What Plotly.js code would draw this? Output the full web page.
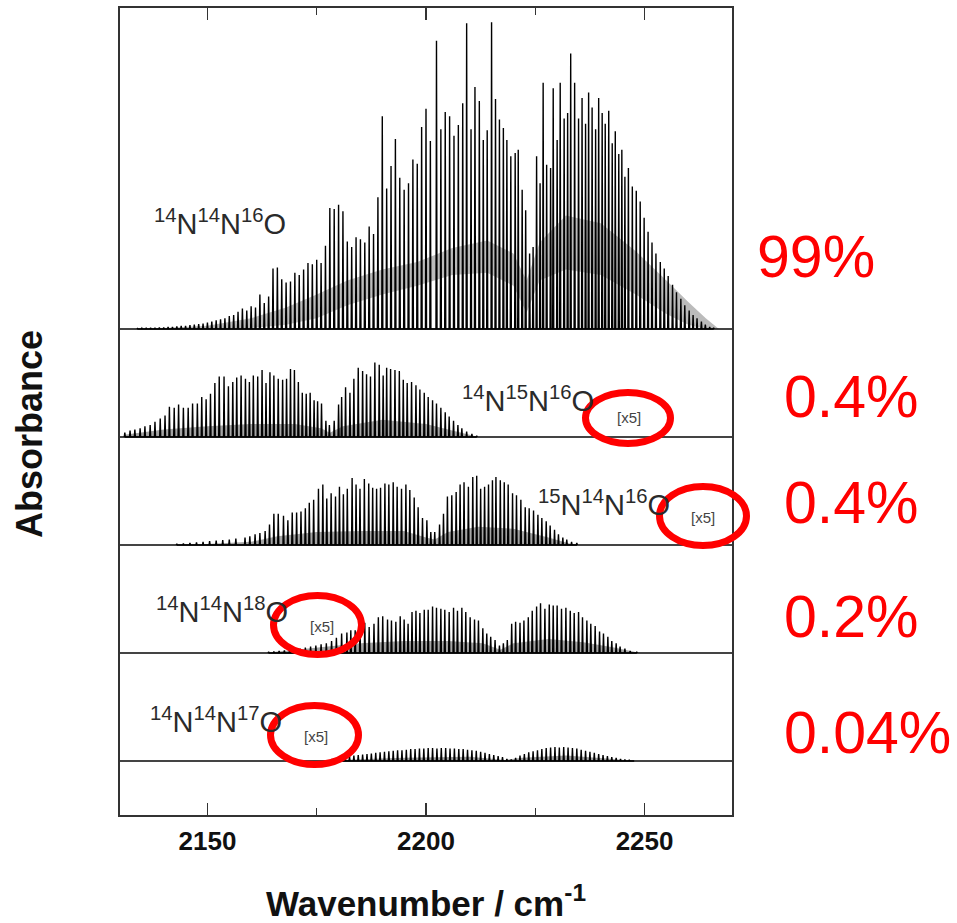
<!DOCTYPE html>
<html>
<head>
<meta charset="utf-8">
<script src="https://cdn.plot.ly/plotly-3.0.1.min.js"></script>
<style>html,body{margin:0;padding:0;background:#fff;}#chart{width:957px;height:923px;}</style>
</head>
<body>
<div id="chart"></div>
<script>
// ---------- DATA ----------
// Panel labels / abundances
const isotopologues = ["<sup>14</sup>N<sup>14</sup>N<sup>16</sup>O", "<sup>14</sup>N<sup>15</sup>N<sup>16</sup>O", "<sup>15</sup>N<sup>14</sup>N<sup>16</sup>O", "<sup>14</sup>N<sup>14</sup>N<sup>18</sup>O", "<sup>14</sup>N<sup>14</sup>N<sup>17</sup>O"];
const abundances = ["99%", "0.4%", "0.4%", "0.2%", "0.04%"];
const scaleNotes = ["", "[x5]", "[x5]", "[x5]", "[x5]"];
const xTicks = [2150, 2200, 2250];

// Panel 1: 14N14N16O line positions (cm-1) and peak absorbance
const pos1 = [2134,2135,2136,2137,2138,2139,2140,2141,2142,2143,2144,2145,2146,2147,2148,2149,2150,2151,2152,2153,2154,2155,2156,2157,2158,2159,2160,2161,2162,2163,2164,2165,2166,2167,2168,2169,2170,2171,2172,2173,2174,2175,2176,2177,2178,2179,2180,2181,2182,2183,2184,2185,2186,2187,2188,2189,2190,2191,2192,2193,2194,2195,2196,2197,2198,2199,2200,2201,2202.4,2203.4,2204.4,2205.4,2206.4,2207.4,2208.4,2209.3,2210.3,2211.2,2212.2,2213.1,2214,2215,2215.9,2216.8,2217.7,2218.5,2219.4,2220.4,2221.1,2222,2222.8,2223.7,2224.5,2225.3,2226.1,2226.8,2227.6,2228.5,2229.1,2230,2230.7,2231.6,2232.4,2233.1,2234,2234.9,2235.7,2236.5,2237.2,2238,2238.8,2239.5,2240.3,2241,2241.8,2242.6,2243.3,2244.1,2244.8,2245.5,2246.3,2247.2,2248.1,2249,2249.9,2250.8,2251.7,2252.6,2253.6,2254.5,2255.4,2256.4,2257.3,2258.3,2259.2,2260.2,2261.1,2262,2263,2263.9,2264.9,2265.8];
const amp1 = [0.005,0.008,0.01,0.01,0.012,0.015,0.015,0.02,0.02,0.025,0.03,0.03,0.035,0.04,0.045,0.05,0.06,0.07,0.08,0.09,0.1,0.12,0.13,0.16,0.19,0.17,0.21,0.2,0.32,0.24,0.3,0.56,0.57,0.46,0.43,0.44,0.52,0.5,0.55,0.61,0.6,0.64,0.61,0.77,1.12,1.11,1.15,1.09,0.81,0.76,0.85,0.83,0.8,0.95,0.88,1.22,1.97,1.3,1.51,1.76,1.4,1.29,1.35,1.57,1.53,1.87,2.04,1.74,2.67,1.85,2.01,1.97,1.79,1.89,2.09,2.83,1.85,2.24,2.11,1.75,1.84,2.84,2.13,1.94,1.86,1.75,1.6,1.63,1.66,1.29,1.1,0.7,0.76,1.6,1.35,2.28,1.52,1.49,2.23,1.75,2.28,1.95,2.0,2.55,2.28,1.95,2.14,1.9,2.19,2.05,1.85,2.14,2.0,1.9,2.02,1.72,1.83,1.62,1.66,1.41,1.49,1.32,1.28,1.18,1.03,0.9,0.8,0.7,0.62,0.56,0.49,0.41,0.34,0.28,0.22,0.17,0.13,0.1,0.07,0.04,0.02,0.01];
// dense unresolved (hot-band) absorption, lower/upper edge
const band1X  = [2140,2150,2160,2168,2175,2182,2190,2198,2206,2214,2220,2223,2226,2232,2240,2248,2255,2260,2264,2267];
const band1Lo = [0,0,0.01,0.04,0.1,0.22,0.32,0.4,0.5,0.52,0.4,0.15,0.45,0.55,0.5,0.32,0.14,0.04,0,0];
const band1Hi = [0.01,0.03,0.1,0.2,0.32,0.45,0.55,0.62,0.75,0.82,0.7,0.45,0.8,1.05,0.98,0.72,0.45,0.25,0.1,0];

// Panel 2: 14N15N16O [x5]
const pos2 = [2131.1,2132.3,2133.4,2134.6,2135.7,2136.9,2138.0,2139.2,2140.3,2141.3,2142.4,2143.4,2144.5,2145.6,2146.6,2147.7,2148.7,2149.7,2150.7,2151.7,2152.7,2153.8,2154.8,2155.8,2156.7,2157.7,2158.7,2159.6,2160.5,2161.5,2162.5,2163.4,2164.3,2165.2,2166.2,2167.2,2168.1,2169.0,2169.9,2170.8,2171.7,2172.6,2173.5,2174.4,2175.2,2176.1,2177.1,2177.9,2179.0,2180.0,2180.7,2181.6,2182.6,2183.5,2184.5,2185.5,2186.4,2187.3,2188.3,2189.3,2190.2,2191.0,2191.9,2192.9,2193.9,2194.8,2195.7,2196.7,2197.7,2198.6,2199.6,2200.5,2201.5,2202.4,2203.4,2204.4,2205.3,2206.3,2207.3,2208.2,2209.3,2210.5,2211.6];
const amp2 = [0.04,0.06,0.07,0.08,0.10,0.11,0.14,0.17,0.20,0.28,0.27,0.30,0.27,0.27,0.31,0.31,0.37,0.35,0.40,0.50,0.56,0.56,0.47,0.51,0.55,0.57,0.54,0.51,0.57,0.56,0.62,0.50,0.60,0.57,0.54,0.53,0.54,0.63,0.62,0.51,0.41,0.40,0.41,0.34,0.33,0.31,0.15,0.11,0.15,0.30,0.37,0.46,0.41,0.54,0.64,0.61,0.58,0.56,0.69,0.67,0.57,0.64,0.63,0.62,0.61,0.53,0.50,0.51,0.48,0.44,0.41,0.37,0.34,0.31,0.27,0.23,0.19,0.15,0.11,0.08,0.05,0.03,0.01];
const band2X  = [2131,2140,2150,2160,2170,2176,2178,2181,2190,2200,2206,2212];
const band2Lo = [0,0,0,0,0,0,0,0,0,0,0,0];
const band2Hi = [0.02,0.07,0.1,0.12,0.12,0.08,0.04,0.1,0.16,0.12,0.06,0];

// Panel 3: 15N14N16O [x5]
const pos3 = [2143,2144.5,2146,2147.5,2149,2150.5,2152,2153.5,2155,2156.5,2158.6,2159.7,2160.9,2162.0,2163.2,2164.2,2165.2,2166.2,2167.4,2168.4,2169.4,2170.4,2171.4,2172.4,2173.3,2174.3,2175.4,2176.4,2177.3,2178.3,2179.3,2180.2,2181.1,2182.0,2183.1,2184.0,2184.9,2185.9,2186.9,2187.8,2188.7,2189.6,2190.6,2191.5,2192.5,2193.4,2194.4,2195.4,2196.3,2197.3,2198.2,2199.2,2200.2,2201.1,2202.0,2203.1,2204.0,2204.9,2205.9,2206.9,2207.8,2208.7,2209.7,2210.7,2211.6,2212.5,2213.4,2214.3,2215.2,2216.0,2217.0,2217.9,2218.8,2219.8,2220.7,2221.7,2222.7,2223.6,2224.6,2225.6,2226.5,2227.5,2228.4,2229.4,2230.3,2231.3,2232.2,2233.3,2234.5];
const amp3 = [0.01,0.015,0.02,0.025,0.03,0.035,0.04,0.045,0.05,0.06,0.07,0.08,0.10,0.11,0.13,0.19,0.29,0.29,0.27,0.23,0.30,0.30,0.31,0.34,0.39,0.42,0.52,0.56,0.43,0.48,0.45,0.54,0.47,0.52,0.62,0.56,0.52,0.61,0.57,0.53,0.52,0.53,0.57,0.56,0.58,0.54,0.52,0.56,0.51,0.44,0.35,0.25,0.23,0.12,0.12,0.19,0.29,0.45,0.46,0.49,0.56,0.58,0.54,0.63,0.64,0.52,0.54,0.56,0.60,0.63,0.60,0.58,0.56,0.48,0.46,0.42,0.35,0.34,0.32,0.28,0.25,0.22,0.18,0.14,0.10,0.07,0.05,0.03,0.02];
const band3X  = [2150,2160,2166,2175,2185,2195,2200,2202,2205,2212,2220,2228,2234];
const band3Lo = [0,0,0,0,0,0,0,0,0,0,0,0,0];
const band3Hi = [0.01,0.03,0.08,0.12,0.13,0.13,0.07,0.05,0.12,0.17,0.15,0.07,0];

// Panel 4: 14N14N18O [x5]
const pos4 = [2164,2165.2,2166.4,2167.6,2168.8,2170,2171.2,2172.4,2173.6,2174.8,2176,2177.2,2178.4,2179.5,2180.7,2181.9,2182.8,2183.8,2184.9,2186.0,2187.0,2188.1,2189.1,2190.1,2191.2,2192.1,2193.1,2194.1,2195.0,2195.9,2196.8,2197.7,2198.6,2199.6,2200.5,2201.5,2202.4,2203.4,2204.3,2205.3,2206.3,2207.2,2208.2,2209.1,2210.1,2211.1,2212.0,2213.0,2213.9,2214.8,2215.8,2216.8,2217.7,2218.6,2219.6,2220.5,2221.5,2222.4,2223.4,2224.3,2225.3,2226.2,2227.2,2228.2,2229.1,2230.0,2231.0,2232.0,2233.0,2233.9,2234.9,2235.8,2236.8,2237.7,2238.7,2239.7,2240.6,2241.6,2242.5,2243.5,2244.4,2245.5,2246.7,2248.2];
const amp4 = [0.01,0.015,0.02,0.025,0.03,0.035,0.04,0.05,0.06,0.07,0.08,0.09,0.11,0.14,0.18,0.19,0.21,0.21,0.23,0.28,0.24,0.27,0.33,0.34,0.31,0.30,0.29,0.34,0.31,0.27,0.38,0.39,0.37,0.40,0.40,0.43,0.42,0.41,0.40,0.38,0.42,0.39,0.42,0.38,0.33,0.31,0.30,0.23,0.18,0.15,0.12,0.07,0.09,0.12,0.27,0.29,0.28,0.30,0.33,0.39,0.43,0.46,0.41,0.45,0.44,0.44,0.41,0.42,0.39,0.37,0.38,0.33,0.30,0.27,0.25,0.20,0.18,0.15,0.11,0.09,0.06,0.04,0.02,0.01];
const band4X  = [2165,2175,2185,2195,2205,2213,2217,2220,2228,2236,2243,2249];
const band4Lo = [0,0,0,0,0,0,0,0,0,0,0,0];
const band4Hi = [0.01,0.05,0.09,0.11,0.11,0.09,0.03,0.09,0.13,0.1,0.05,0];

// Panel 5: 14N14N17O [x5]
const pos5 = [2178.5,2179.5,2180.5,2181.5,2182.5,2183.5,2184.5,2185.5,2186.5,2187.5,2188.5,2189.5,2190.5,2191.5,2192.5,2193.5,2194.5,2195.5,2196.5,2197.5,2198.5,2199.5,2200.5,2201.5,2202.5,2203.5,2204.5,2205.5,2206.5,2207.5,2208.5,2209.5,2210.5,2211.5,2212.5,2213.5,2214.5,2215.5,2216.5,2217.5,2218.5,2219.5,2220.5,2221.5,2222.5,2223.5,2224.5,2225.5,2226.5,2227.5,2228.5,2229.5,2230.5,2231.5,2232.5,2233.5,2234.5,2235.5,2236.5,2237.5,2238.5,2239.5,2240.5,2241.5,2242.5,2243.5,2244.5,2245.5,2246.5,2247.5];
const amp5 = [0.02,0.03,0.03,0.04,0.045,0.05,0.055,0.06,0.065,0.07,0.075,0.08,0.085,0.09,0.095,0.1,0.1,0.105,0.11,0.11,0.115,0.115,0.12,0.12,0.115,0.12,0.12,0.115,0.115,0.11,0.11,0.105,0.1,0.095,0.085,0.075,0.065,0.055,0.045,0.035,0.02,0.015,0.03,0.05,0.065,0.08,0.09,0.1,0.11,0.12,0.125,0.13,0.125,0.13,0.125,0.12,0.115,0.105,0.095,0.085,0.075,0.065,0.055,0.045,0.035,0.028,0.02,0.015,0.01,0.005];
const band5X  = [2180,2195,2210,2218,2222,2232,2242,2248];
const band5Lo = [0,0,0,0,0,0,0,0];
const band5Hi = [0.01,0.03,0.04,0.01,0.03,0.05,0.02,0];

// ---------- LAYOUT HELPERS ----------
const W = 957, H = 923, L = 120, R = 732, T = 8, B = 815;
const px = x => (x - L) / (R - L);
const py = y => (B - y) / (B - T);
const FONT = "Liberation Sans, Arial, Helvetica, sans-serif";

const panels = [
  {pos: pos1, amp: amp1, bx: band1X, lo: band1Lo, hi: band1Hi, shade: 'rgba(30,30,30,0.3)'},
  {pos: pos2, amp: amp2, bx: band2X, lo: band2Lo, hi: band2Hi, shade: 'rgba(30,30,30,0.4)'},
  {pos: pos3, amp: amp3, bx: band3X, lo: band3Lo, hi: band3Hi, shade: 'rgba(30,30,30,0.4)'},
  {pos: pos4, amp: amp4, bx: band4X, lo: band4Lo, hi: band4Hi, shade: 'rgba(30,30,30,0.4)'},
  {pos: pos5, amp: amp5, bx: band5X, lo: band5Lo, hi: band5Hi, shade: 'rgba(30,30,30,0.4)'}
];

const traces = [{x: [], y: [], xaxis: 'x', yaxis: 'y', showlegend: false, hoverinfo: 'skip'}];
panels.forEach((p, i) => {
  const ya = 'y' + (i + 2);
  traces.push({
    x: p.bx.concat(p.bx.slice().reverse()),
    y: p.hi.concat(p.lo.slice().reverse()),
    type: 'scatter', mode: 'lines', fill: 'toself',
    fillcolor: p.shade, line: {width: 0},
    xaxis: 'x', yaxis: ya, showlegend: false, hoverinfo: 'skip'
  });
  const sx = [], sy = [];
  p.pos.forEach((w, k) => { sx.push(w - 0.12, w, w + 0.12); sy.push(0, p.amp[k], 0); });
  traces.push({
    x: sx, y: sy, type: 'scatter', mode: 'lines',
    line: {color: '#000', width: 1.4},
    xaxis: 'x', yaxis: ya, showlegend: false, hoverinfo: 'skip'
  });
});

// ---------- AXES ----------
const baselines = [329, 437, 545, 653, 761];
const pad = 0.05, unitPx = 108;
const layout = {
  width: W, height: H,
  margin: {l: L, r: W - R, t: T, b: H - B, pad: 0},
  paper_bgcolor: '#fff', plot_bgcolor: 'rgba(0,0,0,0)',
  showlegend: false,
  font: {family: FONT, color: '#222'},
  xaxis: {
    range: [2130, 2270], anchor: 'y',
    tickmode: 'array', tickvals: xTicks, ticktext: xTicks.map(String),
    ticks: 'inside', ticklen: 12, tickwidth: 1.5, tickcolor: '#333',
    minor: {ticks: 'inside', ticklen: 7, tickwidth: 1.5, tickcolor: '#333', dtick: 25, tick0: 2150},
    showline: true, linecolor: '#333', linewidth: 2, mirror: 'ticks',
    showgrid: false, zeroline: false,
    tickfont: {family: FONT, size: 26, weight: 'bold', color: '#111'},
    ticklabelstandoff: 2,
    title: {text: 'Wavenumber / cm<sup>-1</sup>', font: {family: FONT, size: 35, weight: 'bold', color: '#111'}, standoff: 39}
  },
  yaxis: {
    domain: [0, 1], range: [0, 1], anchor: 'x',
    showline: true, linecolor: '#333', linewidth: 2, mirror: true,
    ticks: '', showticklabels: false, showgrid: false, zeroline: false, fixedrange: true
  },
  shapes: [],
  annotations: []
};
baselines.forEach((b, i) => {
  const top = i === 0 ? T : baselines[i - 1] + pad * unitPx;
  const bottom = b + pad * unitPx;
  layout['yaxis' + (i + 2)] = {
    domain: [py(bottom), py(top)],
    range: [-pad, (b - top) / unitPx],
    anchor: 'x', showticklabels: false, ticks: '', showgrid: false,
    showline: false, zeroline: true, zerolinecolor: '#444', zerolinewidth: 1.5
  };
});

// ---------- TEXT ----------
layout.annotations.push({
  xref: 'paper', yref: 'paper', x: px(30), y: py(434), text: 'Absorbance', textangle: -90,
  showarrow: false, xanchor: 'center', yanchor: 'middle',
  font: {family: FONT, size: 36, weight: 'bold', color: '#111'}
});
const labelPos = [[152, 222], [460, 399], [536, 503], [154, 610], [148, 720]];
isotopologues.forEach((t, i) => {
  layout.annotations.push({
    xref: 'paper', yref: 'paper', x: px(labelPos[i][0]), y: py(labelPos[i][1]),
    text: t, showarrow: false, xanchor: 'left', yanchor: 'middle',
    font: {family: FONT, size: 29, color: '#2a2a2a'}
  });
});
const pctPos = [[755, 257], [782, 397], [782, 503], [782, 617], [782, 733]];
abundances.forEach((t, i) => {
  layout.annotations.push({
    xref: 'paper', yref: 'paper', x: px(pctPos[i][0]), y: py(pctPos[i][1]),
    text: t, showarrow: false, xanchor: 'left', yanchor: 'middle',
    font: {family: FONT, size: 59, color: '#ff0000'}
  });
});
const notePos = [null, [629, 418], [703, 517], [322, 626], [316, 736]];
const ellipses = [null, [585.5, 392.5, 670.5, 443.5], [659.5, 486.5, 746.5, 545.5], [273.5, 595.5, 361.5, 654.5], [270.5, 705.5, 358.5, 764.5]];
scaleNotes.forEach((t, i) => {
  if (!t) return;
  layout.annotations.push({
    xref: 'paper', yref: 'paper', x: px(notePos[i][0]), y: py(notePos[i][1]),
    text: t, showarrow: false, xanchor: 'center', yanchor: 'middle',
    font: {family: FONT, size: 15, color: '#444'}
  });
  const e = ellipses[i];
  layout.shapes.push({
    type: 'circle', xref: 'paper', yref: 'paper', layer: 'above',
    x0: px(e[0]), x1: px(e[2]), y0: py(e[3]), y1: py(e[1]),
    line: {color: '#ff0000', width: 7}
  });
});

Plotly.newPlot('chart', traces, layout, {staticPlot: true, displayModeBar: false});
</script>
</body>
</html>
